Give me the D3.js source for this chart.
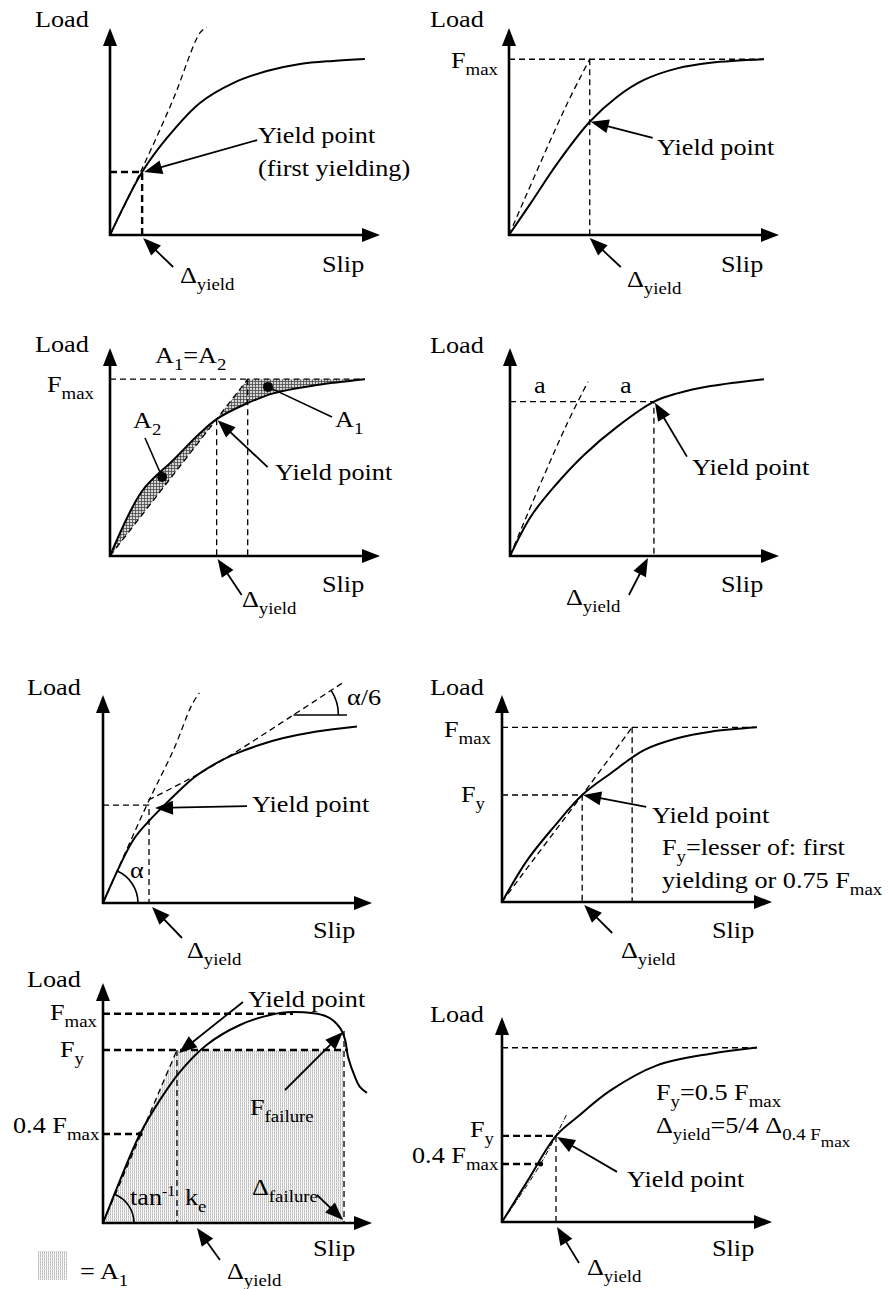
<!DOCTYPE html>
<html>
<head>
<meta charset="utf-8">
<script src="https://cdn.jsdelivr.net/npm/d3@7"></script>
<style>
  body { margin: 0; background: #fff; }
  text { font-family: 'Liberation Serif', 'Times New Roman', serif; fill: #000; white-space: pre; }
</style>
</head>
<body>
<svg id="chart"></svg>
<script>
// values are [slip, load] in axis units (0..10 = origin..arrow tip)
const curve1 = [[0,0],[1.19,3.04],[2.11,4.69],[3.33,6.38],[4.56,7.34],[5.81,7.92],[7.04,8.26],[8.26,8.41],[9.44,8.5]];
const tangent1 = [[0,0],[1.22,3.29],[2.33,6.52],[3.33,9.76],[3.59,10.05]];
const yield1 = [1.19, 3.04];

const curve2 = [[0,0],[0.8,1.53],[1.79,3.46],[2.99,5.47],[4.01,6.68],[5.0,7.49],[6.23,8.05],[7.47,8.32],[9.44,8.49]];
const secant2 = [[0,0],[2.1,6.2],[2.99,8.49]];
const fmax2 = 8.49;
const yield2 = [2.99, 5.47];

const curve3 = [[0,0],[1.17,3.09],[2.35,4.62],[3.33,5.9],[3.95,6.58],[5.06,7.33],[6.05,7.82],[7.65,8.22],[9.44,8.5]];
const bilinear3 = [[0,0],[5.1,8.5],[9.44,8.5]];
const yield3 = [3.95, 6.58];
const dots3 = [[1.93,3.8],[5.85,8.13]];

const curve4 = [[0,0],[0.77,1.89],[1.64,3.33],[2.75,4.86],[3.99,6.22],[5.35,7.42],[6.22,7.82],[7.46,8.17],[9.44,8.5]];
const tangent4 = [[0,0],[0.4,1.25],[2.07,6.22],[2.9,8.38]];
const yield4 = [5.35, 7.42];

const curve5 = [[0,0],[1.13,3.04],[1.69,3.92],[2.12,4.49],[2.62,5.13],[3.36,6.01],[4.1,6.64],[4.85,7.13],[5.84,7.61],[6.71,7.93],[7.94,8.25],[9.44,8.49]];
const initTangent5 = [[0,0],[1.63,4.71],[2.62,7.36],[3.3,9.52],[3.58,10.1]];
const sixthTangent5 = [[1.69,4.95],[3.36,6.07],[4.85,7.19],[7.08,9.04],[8.88,10.56]];
const sixthRef5 = [[7.08,9.04],[9.07,9.04]];
const yield5 = [1.71, 4.71];

const curve6 = [[0,0],[0.93,2.01],[1.92,3.63],[2.97,5.17],[4.02,6.21],[5.26,7.34],[6.49,7.91],[7.73,8.23],[9.44,8.44]];
const secant6 = [[0,0],[0.68,1.2],[2.97,5.17],[4.82,8.44]];
const fmax6 = 8.44;
const yield6 = [2.97, 5.17];

const curve7 = [[0,0],[0.64,1.8],[1.39,3.74],[2.12,5.13],[2.86,6.3],[3.85,7.42],[5.09,8.25],[6.21,8.67],[7.06,8.79],[8.32,8.6],[8.81,8.13],[9.0,7.63],[9.11,6.92],[9.37,6.08],[9.55,5.67],[9.81,5.42]];
const bilinear7 = [[0,0],[2.75,7.21],[8.96,7.21]];
const fmax7 = 8.72, fmaxX7 = 7.06;
const point04_7 = [1.38, 3.71];
const failure7 = [8.96, 8.0];
const yield7 = [2.75, 7.21];

const curve8 = [[0,0],[0.93,1.97],[2.0,4.2],[2.79,5.12],[4.02,6.42],[5.74,7.64],[7.73,8.21],[9.44,8.51]];
const tangent8 = [[0,0],[1.43,2.83],[2.41,5.29]];
const fmax8 = 8.5;
const point04_8 = [1.43, 2.83];
const yield8 = [2.0, 4.2];

// panel frames: origin x, origin y, x-axis length, y-axis length (px)
const frames = [
  [110, 235, 270, 207], [509, 235, 270, 207],
  [110, 556, 270, 208], [510, 556, 269, 208],
  [103, 903, 269, 208], [502, 902, 270, 207],
  [103, 1223, 269, 240], [502, 1222, 270, 205]
];

const svg = d3.select('#chart').attr('width', 888).attr('height', 1289);
svg.append('rect').attr('width', 888).attr('height', 1289).attr('fill', '#fff');

const defs = svg.append('defs');
const cross = defs.append('pattern').attr('id', 'cross')
  .attr('patternUnits', 'userSpaceOnUse').attr('width', 3).attr('height', 3);
cross.append('rect').attr('width', 3).attr('height', 3).attr('fill', '#d6d6d6');
cross.append('path').attr('d', 'M0,0.5H3M0.5,0V3').attr('stroke', '#4a4a4a').attr('stroke-width', 0.8);
const fine = defs.append('pattern').attr('id', 'fine')
  .attr('patternUnits', 'userSpaceOnUse').attr('width', 2).attr('height', 3);
fine.append('rect').attr('width', 2).attr('height', 3).attr('fill', '#fff');
fine.append('path').attr('d', 'M0.5,0V3').attr('stroke', '#b4b4b4').attr('stroke-width', 0.9);
fine.append('path').attr('d', 'M0,0.5H2').attr('stroke', '#e2e2e2').attr('stroke-width', 0.8);

function panel(f) {
  const [ox, oy, xLen, yLen] = f;
  const p = {};
  p.x = d3.scaleLinear().domain([0, 10]).range([ox, ox + xLen]);
  p.y = d3.scaleLinear().domain([0, 10]).range([oy, oy - yLen]);
  p.g = svg.append('g');
  p.line = d3.line().x(d => p.x(d[0])).y(d => p.y(d[1]));
  p.smooth = d3.line().curve(d3.curveCatmullRom.alpha(0.5)).x(d => p.x(d[0])).y(d => p.y(d[1]));
  return p;
}

function arrow(g, from, to, w) {
  const L = 18, HW = 7;
  const dx = to[0] - from[0], dy = to[1] - from[1], d = Math.hypot(dx, dy);
  const ux = dx / d, uy = dy / d;
  const bx = to[0] - ux * L, by = to[1] - uy * L;
  g.append('line')
    .attr('x1', from[0]).attr('y1', from[1])
    .attr('x2', bx + ux * 2).attr('y2', by + uy * 2)
    .attr('stroke', '#000').attr('stroke-width', w);
  g.append('path')
    .attr('d', `M${to[0]},${to[1]}L${bx - uy * HW},${by + ux * HW}L${bx + uy * HW},${by - ux * HW}Z`)
    .attr('fill', '#000');
}

function axes(p) {
  const x0 = p.x(0), y0 = p.y(0);
  arrow(p.g, [x0, y0 + 1], [x0, p.y(10)], 2.6);
  arrow(p.g, [x0 - 1, y0], [p.x(10), y0], 2.6);
}

// arrow whose tip sits near a data point (tipOff px) and tail at tailRel px from tip
function pointer(p, at, tipOff, tailRel) {
  const tip = [p.x(at[0]) + tipOff[0], p.y(at[1]) + tipOff[1]];
  arrow(p.g, [tip[0] + tailRel[0], tip[1] + tailRel[1]], tip, 1.8);
}

function solid(p, pts, w) {
  p.g.append('path').attr('d', p.smooth(pts)).attr('fill', 'none')
    .attr('stroke', '#000').attr('stroke-width', w || 2);
}
function dash(p, pts, thick, smooth) {
  p.g.append('path').attr('d', (smooth ? p.smooth : p.line)(pts)).attr('fill', 'none')
    .attr('stroke', '#000')
    .attr('stroke-width', thick ? 2.4 : 1.3)
    .attr('stroke-dasharray', thick ? '7,4' : '6,4');
}
function guide(p, pt, thick) {
  dash(p, [[0, pt[1]], pt, [pt[0], 0]], thick);
}
function dot(p, pt, r) {
  p.g.append('circle').attr('cx', p.x(pt[0])).attr('cy', p.y(pt[1])).attr('r', r).attr('fill', '#000');
}
function angleArc(p, seg, r) {
  const cx = p.x(seg[0][0]), cy = p.y(seg[0][1]);
  const th = Math.atan2(-(p.y(seg[1][1]) - cy), p.x(seg[1][0]) - cx);
  p.g.append('path')
    .attr('d', `M${cx + r},${cy}A${r},${r} 0 0 0 ${cx + r * Math.cos(th)},${cy - r * Math.sin(th)}`)
    .attr('fill', 'none').attr('stroke', '#000').attr('stroke-width', 1.6);
}

const sizes = { n: 23, sub: 16.5, sup: 14, sub2: 15 };
const shifts = { n: 0, sub: 7, sup: -9, sub2: 14 };
function label(x, y, parts) {
  const t = svg.append('text').attr('transform', `translate(${x},${y}) scale(1.14,1)`);
  let cur = 0;
  parts.forEach(part => {
    const [str, kind] = typeof part === 'string' ? [part, 'n'] : part;
    t.append('tspan').attr('dy', shifts[kind] - cur).attr('font-size', sizes[kind]).text(str);
    cur = shifts[kind];
  });
}

// ---- panel 1: first yielding
const p1 = panel(frames[0]);
dash(p1, tangent1, false, true);
solid(p1, curve1);
guide(p1, yield1, true);
axes(p1);
pointer(p1, yield1, [2, 0], [113, -32]);
pointer(p1, [yield1[0], 0], [1, 3], [30, 29]);

// ---- panel 2: secant to Fmax
const p2 = panel(frames[1]);
dash(p2, secant2, false, true);
dash(p2, [[0, fmax2], [curve2[curve2.length - 1][0], fmax2]]);
dash(p2, [[yield2[0], fmax2], [yield2[0], 0]]);
solid(p2, curve2);
axes(p2);
pointer(p2, yield2, [1, 0], [62, 16]);
pointer(p2, [yield2[0], 0], [0, 3], [31, 29]);

// ---- panel 3: equal energy
const p3 = panel(frames[2]);
const end3 = curve3[curve3.length - 1];
const cPath3 = p3.smooth(curve3);
const lPath3 = p3.line(bilinear3);
const cap3 = `L${p3.x(end3[0])},${p3.y(12)}L${p3.x(0)},${p3.y(12)}Z`;
const floor3 = `L${p3.x(end3[0])},${p3.y(0)}Z`;
defs.append('clipPath').attr('id', 'aboveCurve3').append('path').attr('d', cPath3 + cap3);
defs.append('clipPath').attr('id', 'aboveLine3').append('path').attr('d', lPath3 + cap3);
p3.g.append('path').attr('d', lPath3 + floor3).attr('fill', 'url(#cross)').attr('clip-path', 'url(#aboveCurve3)');
p3.g.append('path').attr('d', cPath3 + floor3).attr('fill', 'url(#cross)').attr('clip-path', 'url(#aboveLine3)');
dash(p3, bilinear3);
dash(p3, [[0, bilinear3[1][1]], bilinear3[1]]);
dash(p3, [yield3, [yield3[0], 0]]);
dash(p3, [bilinear3[1], [bilinear3[1][0], 0]]);
solid(p3, curve3);
dots3.forEach(d => dot(p3, d, 5));
p3.g.append('line').attr('x1', p3.x(dots3[0][0])).attr('y1', p3.y(dots3[0][1]))
  .attr('x2', 145).attr('y2', 438).attr('stroke', '#000').attr('stroke-width', 1.6);
p3.g.append('line').attr('x1', p3.x(dots3[1][0])).attr('y1', p3.y(dots3[1][1]))
  .attr('x2', 332).attr('y2', 417).attr('stroke', '#000').attr('stroke-width', 1.6);
axes(p3);
pointer(p3, yield3, [1, 1], [50, 47]);
pointer(p3, [yield3[0], 0], [1, 3], [24, 36]);

// ---- panel 4: equal horizontal distances
const p4 = panel(frames[3]);
dash(p4, tangent4, false, true);
guide(p4, yield4);
solid(p4, curve4);
axes(p4);
pointer(p4, yield4, [1, 1], [32, 54]);
pointer(p4, [yield4[0], 0], [-6, 2], [-19, 37]);

// ---- panel 5: alpha/6 tangent
const p5 = panel(frames[4]);
dash(p5, initTangent5, false, true);
dash(p5, sixthTangent5, false, true);
guide(p5, yield5);
solid(p5, curve5);
p5.g.append('path').attr('d', p5.line(sixthRef5)).attr('stroke', '#000').attr('stroke-width', 1.5);
angleArc(p5, [sixthTangent5[3], sixthTangent5[4]], 45);
angleArc(p5, [initTangent5[0], initTangent5[1]], 35);
axes(p5);
pointer(p5, yield5, [6, 3], [92, -2]);
pointer(p5, [yield5[0], 0], [3, 4], [30, 31]);

// ---- panel 6: 0.75 Fmax
const p6 = panel(frames[5]);
dash(p6, secant6, false, true);
dash(p6, [[0, fmax6], [curve6[curve6.length - 1][0], fmax6]]);
dash(p6, [[secant6[3][0], fmax6], [secant6[3][0], 0]]);
guide(p6, yield6);
solid(p6, curve6);
axes(p6);
pointer(p6, yield6, [1, 0], [63, 12]);
pointer(p6, [yield6[0], 0], [2, 3], [28, 28]);

// ---- panel 7: EEEP
const p7 = panel(frames[6]);
p7.g.append('path').attr('d', p7.line(bilinear7) + `L${p7.x(failure7[0])},${p7.y(0)}Z`).attr('fill', 'url(#fine)');
dash(p7, [[0, 0], yield7]);
dash(p7, [[0, yield7[1]], [failure7[0] + 0.15, yield7[1]]], true);
dash(p7, [[0, fmax7], [fmaxX7, fmax7]], true);
dash(p7, [[0, point04_7[1]], point04_7], true);
dash(p7, [yield7, [yield7[0], 0]]);
dash(p7, [failure7, [failure7[0], 0]]);
solid(p7, curve7);
dot(p7, point04_7, 2.5);
angleArc(p7, [bilinear7[0], bilinear7[1]], 31);
axes(p7);
pointer(p7, yield7, [2, 3], [64, -51]);
pointer(p7, failure7, [-1, 1], [-58, 58]);
pointer(p7, [failure7[0], 0], [-1, -3], [-26, -25]);
pointer(p7, [yield7[0], 0], [20, 5], [23, 32]);
svg.append('rect').attr('x', 38).attr('y', 1251).attr('width', 29).attr('height', 29).attr('fill', 'url(#fine)');

// ---- panel 8: 0.5 Fmax
const p8 = panel(frames[7]);
dash(p8, [[0, fmax8], [curve8[curve8.length - 1][0], fmax8]]);
dash(p8, [[0, yield8[1]], yield8], true);
dash(p8, [[0, point04_8[1]], point04_8], true);
dash(p8, [yield8, [yield8[0], 0]]);
p8.g.append('path').attr('d', p8.smooth(tangent8)).attr('fill', 'none')
  .attr('stroke', '#000').attr('stroke-width', 1).attr('stroke-dasharray', '5,2,1,2');
solid(p8, curve8);
dot(p8, point04_8, 2.5);
axes(p8);
pointer(p8, yield8, [1, 1], [60, 35]);
pointer(p8, [yield8[0], 0], [1, 5], [22, 36]);

// ---- text
const D = 'Δ';
[
  [35, 27, ['Load']], [322, 272, ['Slip']], [258, 143, ['Yield point']], [258, 176, ['(first yielding)']],
  [180, 283, [D, ['yield', 'sub']]],

  [430, 27, ['Load']], [451, 68, ['F', ['max', 'sub']]], [657, 155, ['Yield point']], [721, 272, ['Slip']],
  [627, 287, [D, ['yield', 'sub']]],

  [35, 352, ['Load']], [155, 363, ['A', ['1', 'sub'], '=A', ['2', 'sub']]], [47, 392, ['F', ['max', 'sub']]],
  [133, 428, ['A', ['2', 'sub']]], [335, 427, ['A', ['1', 'sub']]], [275, 480, ['Yield point']],
  [322, 592, ['Slip']], [242, 607, [D, ['yield', 'sub']]],

  [430, 353, ['Load']], [534, 393, ['a']], [620, 393, ['a']], [692, 475, ['Yield point']],
  [721, 592, ['Slip']], [566, 605, [D, ['yield', 'sub']]],

  [27, 695, ['Load']], [347, 705, ['α/6']], [252, 812, ['Yield point']], [130, 878, ['α']],
  [313, 938, ['Slip']], [187, 958, [D, ['yield', 'sub']]],

  [430, 695, ['Load']], [444, 737, ['F', ['max', 'sub']]], [461, 802, ['F', ['y', 'sub']]],
  [652, 823, ['Yield point']], [662, 855, ['F', ['y', 'sub'], '=lesser of: first']],
  [662, 888, ['yielding or 0.75 F', ['max', 'sub']]], [712, 938, ['Slip']], [621, 958, [D, ['yield', 'sub']]],

  [27, 987, ['Load']], [248, 1007, ['Yield point']], [50, 1020, ['F', ['max', 'sub']]], [60, 1057, ['F', ['y', 'sub']]],
  [13, 1133, ['0.4 F', ['max', 'sub']]], [250, 1115, ['F', ['failure', 'sub']]], [130, 1205, ['tan', ['-1', 'sup']]],
  [185, 1205, ['k', ['e', 'sub']]], [252, 1195, [D, ['failure', 'sub']]], [313, 1256, ['Slip']],
  [227, 1279, [D, ['yield', 'sub']]], [80, 1279, ['= A', ['1', 'sub']]],

  [430, 1022, ['Load']], [656, 1100, ['F', ['y', 'sub'], '=0.5 F', ['max', 'sub']]],
  [656, 1133, [D, ['yield', 'sub'], '=5/4 ' + D, ['0.4 F', 'sub'], ['max', 'sub2']]],
  [470, 1137, ['F', ['y', 'sub']]], [412, 1163, ['0.4 F', ['max', 'sub']]], [627, 1187, ['Yield point']],
  [712, 1256, ['Slip']], [587, 1275, [D, ['yield', 'sub']]]
].forEach(l => label(l[0], l[1], l[2]));
</script>
</body>
</html>
